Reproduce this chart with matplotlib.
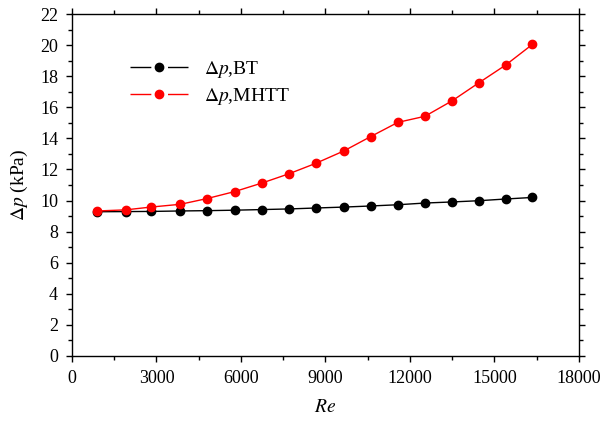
import matplotlib.pyplot as plt
from matplotlib.lines import Line2D
from matplotlib.ticker import MultipleLocator

plt.rcParams['font.family'] = 'Liberation Serif'
plt.rcParams['mathtext.fontset'] = 'stix'

# data
re = [900, 1900, 2800, 3850, 4800, 5780, 6750, 7700, 8650, 9650,
      10600, 11570, 12530, 13500, 14450, 15400, 16350]
dp_bt = [9.28, 9.29, 9.30, 9.33, 9.35, 9.38, 9.42, 9.46, 9.52, 9.58,
         9.65, 9.73, 9.84, 9.91, 9.99, 10.1, 10.2]
dp_mhtt = [9.33, 9.40, 9.58, 9.76, 10.13, 10.58, 11.13, 11.72, 12.39, 13.19,
           14.11, 15.03, 15.42, 16.42, 17.58, 18.72, 20.05]
names = [r'$\Delta p$,BT', r'$\Delta p$,MHTT']
colors = ['black', 'red']

fig = plt.figure(figsize=(6.06, 4.22), dpi=100)
ax = fig.add_axes([0.1188, 0.1564, 0.8366, 0.8104])

ax.plot(re, dp_bt, '-o', color=colors[0], lw=1, ms=6)
ax.plot(re, dp_mhtt, '-o', color=colors[1], lw=1, ms=6)

ax.set_xlim(0, 18000)
ax.set_ylim(0, 22)
ax.xaxis.set_major_locator(MultipleLocator(3000))
ax.xaxis.set_minor_locator(MultipleLocator(1500))
ax.yaxis.set_major_locator(MultipleLocator(2))
ax.yaxis.set_minor_locator(MultipleLocator(1))
ax.tick_params(which='both', direction='out', top=True, right=True,
               labelsize=13, width=1)
ax.tick_params(which='major', length=4, pad=6)
ax.tick_params(which='minor', length=3)
for s in ax.spines.values():
    s.set_linewidth(1)

ax.set_xlabel('$Re$', fontsize=14, labelpad=9)
ax.set_ylabel(r'$\Delta p$ (kPa)', fontsize=14, labelpad=7)

# legend handles with a gap either side of the marker
handles = [Line2D([], [], color=c, lw=1, marker='o', ms=6, dashes=(15, 12))
           for c in colors]
ax.legend(handles, names, loc='upper left', bbox_to_anchor=(0.08, 0.92),
          frameon=False, fontsize=14, handlelength=3, labelspacing=0.3)

fig.savefig('out.png', dpi=100)
